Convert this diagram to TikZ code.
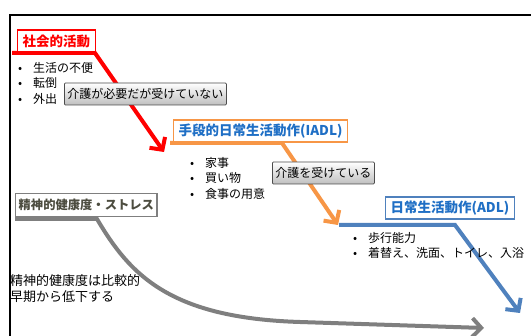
\documentclass[tikz,border=0pt]{standalone}
\usepackage{fontspec}
\setmainfont{Noto Sans CJK JP}
\usetikzlibrary{arrows.meta}

\definecolor{lnred}{HTML}{FF0000}
\definecolor{lnorange}{HTML}{F79646}
\definecolor{lnblue}{HTML}{4F81BD}
\definecolor{lngray}{HTML}{7F7F7F}
\definecolor{txtblue}{HTML}{1F6FC5}
\definecolor{txtgray}{HTML}{4D4D40}

\newcommand{\bul}{\makebox[15pt][l]{•}}

\begin{document}
\begin{tikzpicture}[x=1pt,y=-1pt,font=\fontsize{12}{15.5}\selectfont,
  trend/.style={line width=4pt,-{Straight Barb[length=9pt,width=19pt]}},
  stage/.style={draw,fill=white,line width=1.3pt,anchor=west,inner xsep=5pt,inner ysep=0pt,
    minimum height=22pt,font=\fontsize{13.5}{15}\selectfont\bfseries},
  care/.style={draw=black!70,line width=0.8pt,rounded corners=1pt,top color=white,bottom color=black!25,
    anchor=west,inner xsep=3pt,inner ysep=0pt,minimum height=22pt},
  items/.style={anchor=north west,align=left,inner sep=0pt}]
\useasboundingbox (0,0) rectangle (531,336);

% frame
\draw[line width=1.5pt] (10,350) -- (10,15) -- (545,15);

\begin{scope}
\coordinate (r1) at (12,53);
\coordinate (r2) at (95,53);
\coordinate (r3) at (164,152);
\coordinate (o1) at (170,143);
\coordinate (o2) at (282,143);
\coordinate (o3) at (338,225);
\coordinate (b1) at (339,225);
\coordinate (b2) at (455,225);
\coordinate (b3) at (520,313);
\coordinate (g1) at (15,219);
\coordinate (g2) at (97,219);
\coordinate (g3) at (300,322);
\coordinate (g4) at (484,328);

\draw[trend, lnred, line join=miter] (r1) -- (r2) -- (r3);
\draw[trend, lnorange] (o1) -- (o2) -- (o3);
\draw[trend, lnblue] (b1) -- (b2) -- (b3);
\draw[trend, lngray] (g1) -- (g2) .. controls (130,275) and (170,318) .. (g3) -- (g4);
\end{scope}

% stage labels
\node[stage, draw=lnred, text=lnred] (lblSocial) at (17,41) {社会的活動};
\node[stage, draw=lnorange, text=txtblue] (lblIadl) at (173,131) {手段的日常生活動作(IADL)};
\node[stage, draw=lnblue, text=txtblue] (lblAdl) at (385,208) {日常生活動作(ADL)};
\node[stage, draw=lngray, text=txtgray, inner xsep=3pt, minimum height=23pt,
  font=\fontsize{12.3}{14}\selectfont\bfseries] (lblMental) at (15,205) {精神的健康度・ストレス};

% items
\node[items] (listSocial) at (18,62) {\bul 生活の不便\\ \bul 転倒\\ \bul 外出};
\node[items] (listIadl) at (190,157) {\bul 家事\\ \bul 買い物\\ \bul 食事の用意};
\node[items] (listAdl) at (353,232) {\bul 歩行能力\\ \bul 着替え、洗面、トイレ、入浴};
\node[items, font=\fontsize{13}{16}\selectfont] (noteMental) at (10,274) {精神的健康度は比較的\\早期から低下する};

% care boxes
\node[care] (careNone) at (64,94) {介護が必要だが受けていない};
\node[care] (careGiven) at (272,173) {介護を受けている};

\end{tikzpicture}
\end{document}
